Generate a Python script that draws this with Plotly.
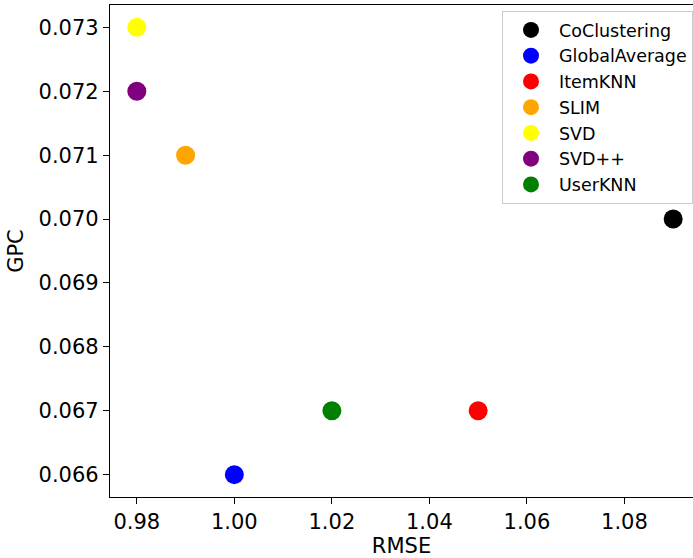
import plotly.graph_objects as go

names = ["CoClustering", "GlobalAverage", "ItemKNN", "SLIM", "SVD", "SVD++", "UserKNN"]
rmse = [1.09, 1.00, 1.05, 0.99, 0.98, 0.98, 1.02]
gpc = [0.070, 0.066, 0.067, 0.071, 0.073, 0.072, 0.067]
colors = ["black", "blue", "red", "orange", "yellow", "purple", "green"]

fig = go.Figure()
for n, x, y, c in zip(names, rmse, gpc, colors):
    fig.add_trace(go.Scatter(x=[x], y=[y], mode="markers", name=n,
                             marker=dict(color=c, size=19, line=dict(width=0))))

W, H = 693, 558
L, R, T, B = 110, 0, 5, 61
pw = W - L - R
ph = H - T - B

font = "DejaVu Sans"
fig.update_layout(
    width=W, height=H,
    margin=dict(l=L, r=R, t=T, b=B, pad=0),
    plot_bgcolor="white", paper_bgcolor="white",
    font=dict(family=font, size=21, color="black"),
    showlegend=True,
    legend=dict(x=(502 - L) / pw, y=1 - (11 - T) / ph, xanchor="left", yanchor="top",
                bordercolor="#cccccc", borderwidth=1, bgcolor="white",
                font=dict(family=font, size=17.5, color="black"),
                itemsizing="trace", tracegroupgap=0, itemwidth=46),
    xaxis=dict(range=[0.9745, 1.0955 - 7 / 4875], tickmode="linear", tick0=0.98, dtick=0.02,
               tickformat=".2f", showgrid=False, zeroline=False,
               showline=True, linecolor="black", linewidth=1.3, mirror=True,
               ticks="outside", ticklen=6, tickwidth=1.3, tickcolor="black",
               title=dict(text="RMSE", standoff=5, font=dict(size=21))),
    yaxis=dict(range=[0.06565, 0.07335], tickmode="linear", tick0=0.066, dtick=0.001,
               tickformat=".3f", showgrid=False, zeroline=False,
               showline=True, linecolor="black", linewidth=1.3, mirror=False,
               ticks="outside", ticklen=6, tickwidth=1.3, tickcolor="black",
               title=dict(text="GPC", standoff=9, font=dict(size=21))),
)

fig.write_html("out.html")
